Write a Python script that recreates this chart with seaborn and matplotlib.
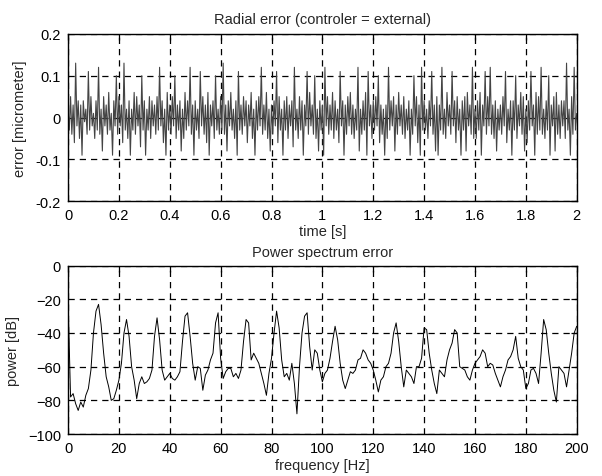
import matplotlib
matplotlib.use('Agg')
import matplotlib.pyplot as plt
import seaborn as sns
import numpy as np
import pandas as pd

# Radial error signal (micrometer), sampled every 5 ms from 0 to 2 s
error_um = [
    0.02, -0.03, 0.05, -0.04, 0.03, -0.06, 0.13, -0.02, 0.04, -0.05,
    0.03, -0.09, 0.04, -0.01, 0.02, -0.04, 0.11, -0.03, 0.05, -0.02,
    0.01, -0.05, 0.04, -0.03, 0.12, -0.04, 0.02, -0.08, 0.05, -0.02,
    0.03, -0.04, 0.06, -0.03, 0.01, -0.09, 0.04, -0.02, 0.10, -0.04,
    0.05, -0.02, 0.03, -0.06, 0.13, -0.03, 0.02, -0.05, 0.04, -0.09,
    0.02, -0.03, 0.06, -0.04, 0.05, -0.02, 0.03, -0.07, 0.10, -0.03,
    0.04, -0.09, 0.02, -0.03, 0.05, -0.05, 0.04, -0.02, 0.03, -0.04,
    0.05, -0.03, 0.12, -0.02, 0.04, -0.06, 0.02, -0.09, 0.06, -0.03,
    0.03, -0.04, 0.05, -0.02, 0.10, -0.05, 0.03, -0.03, 0.04, -0.08,
    0.02, -0.05, 0.06, -0.03, 0.04, -0.02, 0.12, -0.04, 0.03, -0.09,
    0.04, -0.03, 0.02, -0.05, 0.11, -0.02, 0.05, -0.04, 0.03, -0.06,
    0.06, -0.09, 0.03, -0.02, 0.04, -0.05, 0.10, -0.03, 0.02, -0.04,
    0.05, -0.03, 0.13, -0.04, 0.03, -0.08, 0.04, -0.02, 0.06, -0.03,
    0.02, -0.05, 0.04, -0.09, 0.11, -0.03, 0.03, -0.04, 0.05, -0.02,
    0.04, -0.06, 0.03, -0.02, 0.06, -0.05, 0.02, -0.09, 0.04, -0.03,
    0.05, -0.02, 0.12, -0.04, 0.03, -0.03, 0.06, -0.05, 0.02, -0.08,
    0.03, -0.04, 0.04, -0.02, 0.11, -0.06, 0.05, -0.03, 0.02, -0.09,
    0.04, -0.03, 0.05, -0.05, 0.03, -0.02, 0.04, -0.07, 0.12, -0.03,
    0.02, -0.05, 0.05, -0.03, 0.04, -0.09, 0.03, -0.02, 0.11, -0.04,
    0.06, -0.02, 0.03, -0.04, 0.10, -0.05, 0.02, -0.08, 0.04, -0.03,
    0.03, -0.09, 0.12, -0.02, 0.05, -0.04, 0.03, -0.03, 0.06, -0.05,
    0.04, -0.03, 0.02, -0.06, 0.11, -0.02, 0.04, -0.09, 0.03, -0.04,
    0.05, -0.02, 0.06, -0.04, 0.03, -0.05, 0.02, -0.03, 0.12, -0.08,
    0.02, -0.04, 0.04, -0.03, 0.06, -0.09, 0.11, -0.02, 0.03, -0.05,
    0.04, -0.03, 0.05, -0.02, 0.10, -0.06, 0.03, -0.04, 0.02, -0.09,
    0.03, -0.05, 0.12, -0.03, 0.04, -0.02, 0.05, -0.08, 0.03, -0.04,
    0.06, -0.02, 0.03, -0.04, 0.05, -0.05, 0.02, -0.03, 0.04, -0.09,
    0.02, -0.04, 0.10, -0.02, 0.05, -0.06, 0.03, -0.09, 0.12, -0.03,
    0.04, -0.03, 0.02, -0.05, 0.04, -0.02, 0.11, -0.04, 0.03, -0.08,
    0.05, -0.09, 0.03, -0.03, 0.12, -0.04, 0.02, -0.05, 0.06, -0.02,
    0.03, -0.04, 0.11, -0.02, 0.04, -0.06, 0.05, -0.03, 0.02, -0.09,
    0.04, -0.03, 0.05, -0.08, 0.06, -0.02, 0.03, -0.04, 0.12, -0.05,
    0.02, -0.05, 0.04, -0.03, 0.06, -0.09, 0.03, -0.02, 0.11, -0.04,
    0.05, -0.02, 0.12, -0.04, 0.03, -0.05, 0.04, -0.08, 0.02, -0.03,
    0.03, -0.04, 0.05, -0.02, 0.11, -0.06, 0.02, -0.03, 0.04, -0.09,
    0.04, -0.03, 0.10, -0.05, 0.03, -0.02, 0.06, -0.04, 0.05, -0.08,
    0.02, -0.06, 0.04, -0.03, 0.11, -0.02, 0.03, -0.09, 0.06, -0.04,
    0.05, -0.03, 0.12, -0.04, 0.02, -0.05, 0.04, -0.03, 0.10, -0.09,
    0.03, -0.02, 0.05, -0.08, 0.06, -0.04, 0.03, -0.05, 0.04, -0.02,
    0.04, -0.05, 0.13, -0.03, 0.02, -0.09, 0.05, -0.04, 0.12, -0.03,
    0.01,
]
sample_step_s = 0.005

# Power spectrum of the error (dB), one value per Hz from 0 to 200 Hz
power_db = [
    -20, -78, -76, -82, -86, -81, -84, -77, -73, -62,
    -40, -27, -23, -35, -52, -66, -72, -80, -79, -74,
    -68, -58, -40, -32, -42, -60, -68, -79, -70, -66,
    -70, -69, -67, -62, -42, -31, -44, -62, -68, -66,
    -64, -67, -68, -66, -63, -45, -30, -28, -42, -58,
    -68, -60, -61, -74, -65, -62, -56, -52, -34, -28,
    -55, -67, -63, -61, -61, -66, -64, -67, -62, -45,
    -32, -34, -56, -52, -55, -58, -64, -70, -77, -64,
    -55, -40, -27, -37, -56, -66, -64, -68, -58, -70,
    -88, -60, -40, -30, -28, -48, -62, -50, -52, -62,
    -69, -64, -62, -55, -45, -36, -44, -58, -68, -73,
    -68, -63, -64, -62, -56, -55, -50, -52, -56, -58,
    -62, -68, -75, -68, -66, -60, -58, -52, -40, -34,
    -45, -60, -72, -62, -64, -66, -70, -60, -60, -55,
    -37, -38, -52, -62, -70, -76, -62, -64, -66, -56,
    -50, -46, -38, -40, -60, -61, -62, -66, -68, -62,
    -58, -56, -54, -50, -52, -60, -58, -59, -64, -68,
    -72, -66, -62, -56, -54, -50, -42, -55, -60, -62,
    -73, -70, -62, -61, -64, -70, -52, -32, -38, -52,
    -64, -74, -81, -60, -62, -64, -72, -62, -52, -40,
    -36,
]

df_err = pd.DataFrame({'time': np.arange(len(error_um)) * sample_step_s,
                       'error': error_um})
df_pow = pd.DataFrame({'freq': np.arange(len(power_db)), 'power': power_db})

sns.set_style('white')
plt.rcParams['font.family'] = ['Liberation Sans', 'DejaVu Sans']
plt.rcParams['font.size'] = 10.5

fig = plt.figure(figsize=(6.02, 4.77), dpi=100)
ax1 = fig.add_axes([0.113, 0.576, 0.845, 0.351])
ax2 = fig.add_axes([0.113, 0.088, 0.845, 0.353])

grid_kw = dict(color='black', linestyle=(0, (5, 4)), linewidth=0.9)

# Top: radial error over time
sns.lineplot(data=df_err, x='time', y='error', ax=ax1, color='#444444',
             linewidth=0.8, estimator=None)
ax1.set_xlim(0, 2)
ax1.set_ylim(-0.2, 0.2)
ax1.set_xticks(np.arange(0, 2.01, 0.2))
ax1.set_xticklabels(['0', '0.2', '0.4', '0.6', '0.8', '1', '1.2', '1.4',
                     '1.6', '1.8', '2'])
ax1.set_yticks([-0.2, -0.1, 0, 0.1, 0.2])
ax1.set_yticklabels(['-0.2', '-0.1', '0', '0.1', '0.2'])
ax1.set_xlabel('time [s]', labelpad=1)
ax1.set_ylabel('error [micrometer]', labelpad=6)
ax1.set_title('Radial error (controler = external)', fontsize=10.5, pad=8)
ax1.grid(True, **grid_kw)

# Bottom: power spectrum
sns.lineplot(data=df_pow, x='freq', y='power', ax=ax2, color='black',
             linewidth=0.7, estimator=None)
ax2.set_xlim(0, 200)
ax2.set_ylim(-100, 0)
ax2.set_xticks(np.arange(0, 201, 20))
ax2.set_yticks(np.arange(-100, 1, 20))
ax2.set_xlabel('frequency [Hz]', labelpad=2)
ax2.set_ylabel('power [dB]', labelpad=6)
ax2.set_title('Power spectrum error', fontsize=10.5, pad=7)
ax2.grid(True, **grid_kw)

for ax in (ax1, ax2):
    for s in ax.spines.values():
        s.set_color('black')
        s.set_linewidth(1.0)
    ax.tick_params(axis='both', direction='in', length=4, width=0.9,
                   labelsize=10.5, colors='black', pad=5,
                   top=True, right=True)

fig.savefig('out.png', dpi=100)
